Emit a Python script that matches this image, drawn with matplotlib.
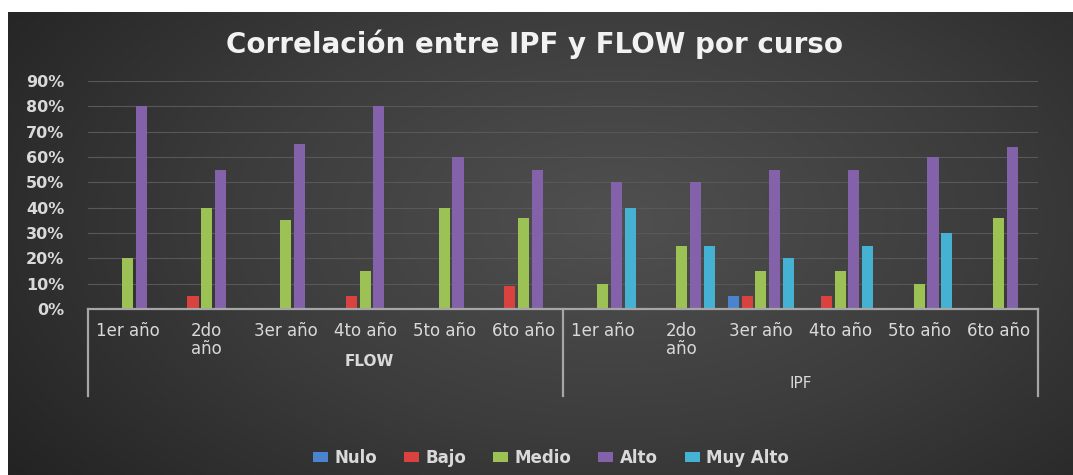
import numpy as np
import matplotlib.pyplot as plt
from matplotlib.colors import LinearSegmentedColormap
from matplotlib.transforms import blended_transform_factory

# Datos: porcentaje de alumnos por nivel, curso y escala
cursos = ['1er año', '2do\naño', '3er año', '4to año', '5to año', '6to año']
grupos = ['FLOW', 'IPF']
niveles = ['Nulo', 'Bajo', 'Medio', 'Alto', 'Muy Alto']

# FLOW (1er..6to) seguido de IPF (1er..6to)
nulo     = [0, 0, 0, 0, 0, 0,    0, 0, 5, 0, 0, 0]
bajo     = [0, 5, 0, 5, 0, 9,    0, 0, 5, 5, 0, 0]
medio    = [20, 40, 35, 15, 40, 36,   10, 25, 15, 15, 10, 36]
alto     = [80, 55, 65, 80, 60, 55,   50, 50, 55, 55, 60, 64]
muy_alto = [0, 0, 0, 0, 0, 0,    40, 25, 20, 25, 30, 0]

series = [nulo, bajo, medio, alto, muy_alto]
colores = ['#4a84cf', '#d9423f', '#9cc256', '#8462aa', '#45b2d3']

texto = '#d9d9d9'
linea = '#a6a6a6'

W, H = 1073, 475
fig = plt.figure(figsize=(W / 100, H / 100), dpi=100, facecolor='white')

# fondo oscuro con degradado radial
bg = fig.add_axes([8 / W, 0, 1 - 8 / W, 1 - 12 / H])
yy, xx = np.mgrid[0:1:300j, 0:1:600j]
r = np.sqrt(((xx - 0.57) / 0.72) ** 2 + ((yy - 0.45) / 0.95) ** 2)
cmap_bg = LinearSegmentedColormap.from_list('bg', ['#505050', '#3c3c3c', '#222222'])
bg.imshow(r, cmap=cmap_bg, aspect='auto', extent=[0, 1, 0, 1], vmin=0, vmax=1)
bg.set_axis_off()

ax = fig.add_axes([88 / W, (H - 309) / H, (1038 - 88) / W, (309 - 81) / H])
ax.set_facecolor('none')

x = np.arange(len(grupos) * len(cursos))
paso = 0.174
ancho = 0.14
for i, (vals, col, nom) in enumerate(zip(series, colores, niveles)):
    ax.bar(x + (i - 2) * paso, np.array(vals) / 100, width=ancho, color=col,
           label=nom, zorder=3)

ax.set_xlim(-0.5, len(x) - 0.5)
ax.set_ylim(0, 0.9)
ax.set_yticks(np.arange(0, 0.91, 0.1))
ax.set_yticklabels([f'{int(round(v * 100))}%' for v in np.arange(0, 0.91, 0.1)],
                   fontsize=11.5, fontweight='bold', color=texto)
ax.set_xticks(x)
ax.set_xticklabels(cursos * 2, fontsize=12, color=texto, linespacing=1.0)
ax.tick_params(axis='x', length=0, pad=9)
ax.tick_params(axis='y', length=0, pad=17)
ax.grid(axis='y', color='#585858', lw=0.8, zorder=0)

for s in ['top', 'right', 'left']:
    ax.spines[s].set_visible(False)
ax.spines['bottom'].set_color(linea)
ax.spines['bottom'].set_linewidth(1.6)
ax.spines['bottom'].set_zorder(4)

# separadores y etiquetas de los grupos
trans = blended_transform_factory(ax.transData, ax.transAxes)
for xs in [-0.5, 5.5, 11.5]:
    ax.plot([xs, xs], [0, -0.38], transform=trans, color=linea, lw=1.6,
            clip_on=False)
ax.text(3.05, -0.23, grupos[0], transform=trans, ha='center', va='center',
        fontsize=11, fontweight='bold', color=texto)
ax.text(8.5, -0.325, grupos[1], transform=trans, ha='center', va='center',
        fontsize=11, color=texto)

fig.text(535 / W, 1 - 44 / H, 'Correlación entre IPF y FLOW por curso',
         ha='center', va='center', fontsize=20, fontweight='bold', color='#f2f2f2')

fig.legend(loc='center', bbox_to_anchor=(551 / W, 1 - 458 / H), ncol=5,
           frameon=False, labelcolor=texto, handlelength=0.9,
           handleheight=0.55, handletextpad=0.4, columnspacing=1.6,
           prop={'weight': 'bold', 'size': 12})

fig.savefig('out.png', dpi=100, facecolor='white')
